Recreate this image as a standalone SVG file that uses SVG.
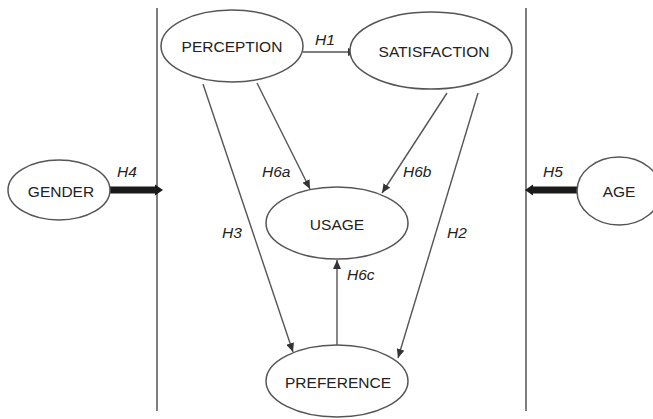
<svg xmlns="http://www.w3.org/2000/svg" width="653" height="419" viewBox="0 0 653 419">
<defs>
<marker id="ah" markerUnits="userSpaceOnUse" markerWidth="10" markerHeight="8" refX="9" refY="4" orient="auto">
<path d="M0,0 L9,4 L0,8 Z" fill="#333"/>
</marker>
<style>
.node ellipse{fill:#fff;stroke:#555;stroke-width:1.5}
.node text{font-family:"Liberation Sans",Arial,sans-serif;font-size:15.5px;fill:#222;text-anchor:middle}
.lbl{font-family:"Liberation Sans",Arial,sans-serif;font-size:15.5px;font-style:italic;fill:#222}
.edge{stroke:#555;stroke-width:1.4;fill:none;marker-end:url(#ah)}
.thick{stroke:#1a1a1a;stroke-width:7;fill:none}
.bar{stroke:#555;stroke-width:1.5}
</style>
</defs>
<rect width="653" height="419" fill="#fff"/>
<line class="bar" x1="157" y1="8" x2="157" y2="411"/>
<line class="bar" x1="526" y1="8" x2="526" y2="411"/>
<g id="connectors">
<line class="edge" x1="303" y1="52" x2="357" y2="52"/>
<line class="edge" x1="203" y1="84" x2="293" y2="352"/>
<line class="edge" x1="257" y1="83" x2="310" y2="189"/>
<line class="edge" x1="447" y1="93" x2="382" y2="193"/>
<line class="edge" x1="478" y1="93" x2="398" y2="358"/>
<line class="edge" x1="337" y1="345" x2="337" y2="260"/>
<line class="thick" x1="110" y1="190" x2="156" y2="190"/>
<polygon points="155,184.5 163,190 155,195.5" fill="#1a1a1a"/>
<line class="thick" x1="578" y1="190" x2="532" y2="190"/>
<polygon points="533,184.5 525,190 533,195.5" fill="#1a1a1a"/>
<text class="lbl" x="315" y="45">H1</text>
<text class="lbl" x="117" y="177">H4</text>
<text class="lbl" x="543" y="177">H5</text>
<text class="lbl" x="262" y="177">H6a</text>
<text class="lbl" x="403" y="177">H6b</text>
<text class="lbl" x="222" y="238">H3</text>
<text class="lbl" x="447" y="238">H2</text>
<text class="lbl" x="347" y="280">H6c</text>
</g>
<g id="perception" class="node"><ellipse cx="232" cy="46" rx="71" ry="36"/><text x="232" y="52">PERCEPTION</text></g>
<g id="satisfaction" class="node"><ellipse cx="431" cy="50.5" rx="81" ry="38.5"/><text x="434" y="57">SATISFACTION</text></g>
<g id="gender" class="node"><ellipse cx="59" cy="190" rx="51" ry="30"/><text x="61" y="197">GENDER</text></g>
<g id="age" class="node"><ellipse cx="619" cy="191" rx="42" ry="34"/><text x="619" y="197">AGE</text></g>
<g id="usage" class="node"><ellipse cx="337" cy="223" rx="71" ry="36"/><text x="337" y="230">USAGE</text></g>
<g id="preference" class="node"><ellipse cx="337" cy="381" rx="71" ry="36"/><text x="338" y="388">PREFERENCE</text></g>
</svg>
